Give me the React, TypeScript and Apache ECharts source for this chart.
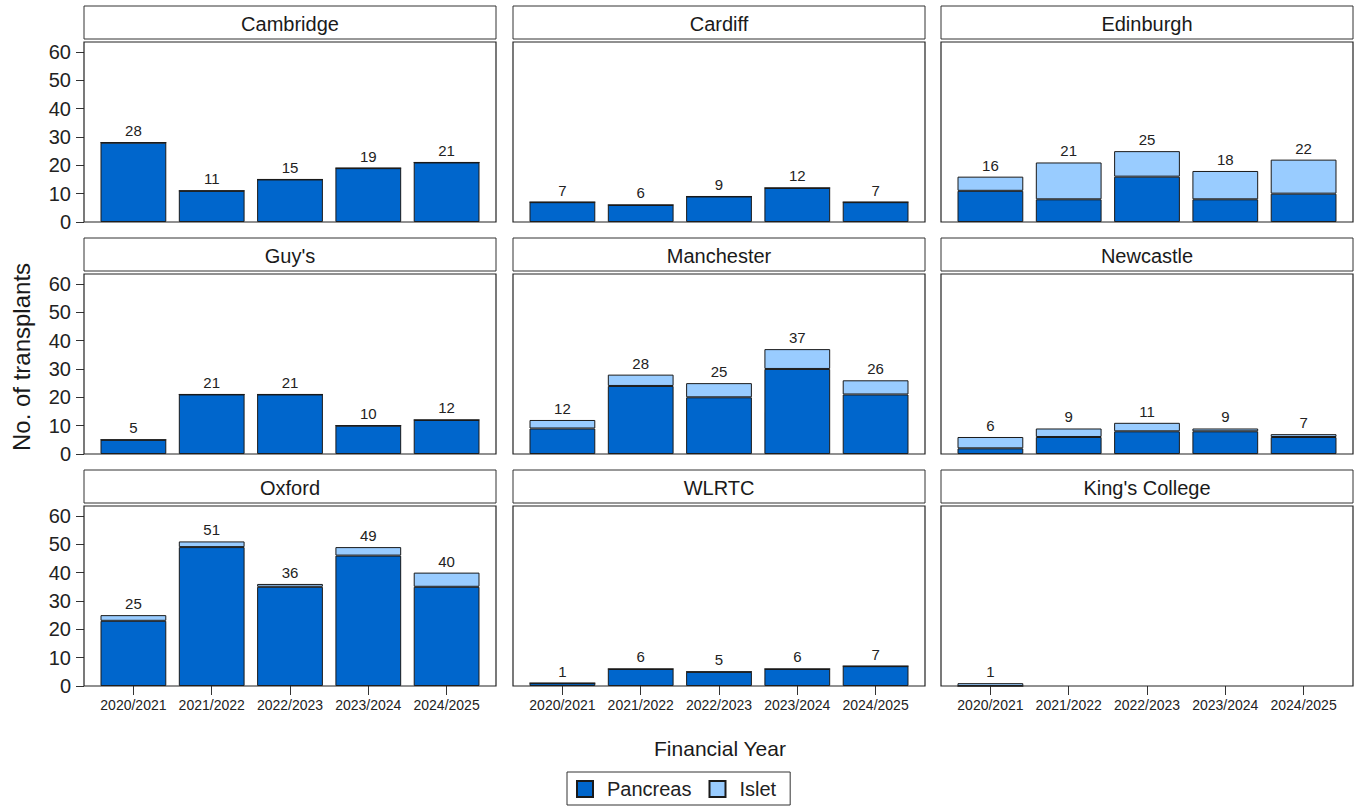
import { useEffect, useRef } from "react";
import * as echarts from "echarts";

const years = ["2020/2021", "2021/2022", "2022/2023", "2023/2024", "2024/2025"];
const centres = ["Cambridge", "Cardiff", "Edinburgh", "Guy's", "Manchester", "Newcastle", "Oxford", "WLRTC", "King's College"];
const yTicks = [0, 10, 20, 30, 40, 50, 60];

const cambridgePancreas = [28, 11, 15, 19, 21];
const cambridgeIslet = [0, 0, 0, 0, 0];
const cardiffPancreas = [7, 6, 9, 12, 7];
const cardiffIslet = [0, 0, 0, 0, 0];
const edinburghPancreas = [11, 8, 16, 8, 10];
const edinburghIslet = [5, 13, 9, 10, 12];
const guysPancreas = [5, 21, 21, 10, 12];
const guysIslet = [0, 0, 0, 0, 0];
const manchesterPancreas = [9, 24, 20, 30, 21];
const manchesterIslet = [3, 4, 5, 7, 5];
const newcastlePancreas = [2, 6, 8, 8, 6];
const newcastleIslet = [4, 3, 3, 1, 1];
const oxfordPancreas = [23, 49, 35, 46, 35];
const oxfordIslet = [2, 2, 1, 3, 5];
const wlrtcPancreas = [1, 6, 5, 6, 7];
const wlrtcIslet = [0, 0, 0, 0, 0];
const kingsPancreas = [0, null, null, null, null];
const kingsIslet = [1, null, null, null, null];

const pancreasByCentre: (number | null)[][] = [
  cambridgePancreas, cardiffPancreas, edinburghPancreas,
  guysPancreas, manchesterPancreas, newcastlePancreas,
  oxfordPancreas, wlrtcPancreas, kingsPancreas,
];
const isletByCentre: (number | null)[][] = [
  cambridgeIslet, cardiffIslet, edinburghIslet,
  guysIslet, manchesterIslet, newcastleIslet,
  oxfordIslet, wlrtcIslet, kingsIslet,
];

const FONT = "'Liberation Sans', Arial, sans-serif";
const PANCREAS_COLOR = "#0066CC";
const ISLET_COLOR = "#99CCFF";

export default function App() {
  const ref = useRef<HTMLDivElement>(null);
  useEffect(() => {
    document.body.style.margin = "0";
    if (!ref.current) return;
    const chart = echarts.init(ref.current, null, { renderer: "svg" });

    const colLeft = [84, 513, 941];
    const boxW = 412;
    const stripTop = [6, 238, 470];
    const stripH = 33;
    const plotTop = [42, 274, 506];
    const plotH = 180;
    const dataW = 391.5;
    const inset = (boxW - dataW) / 2;

    const grids: any[] = [];
    const xAxes: any[] = [];
    const yAxes: any[] = [];
    const series: any[] = [];
    const graphics: any[] = [];

    centres.forEach((name, i) => {
      const r = Math.floor(i / 3);
      const c = i % 3;
      grids.push({ left: colLeft[c] + inset, top: plotTop[r], width: dataW, height: plotH });
      xAxes.push({
        type: "category",
        gridIndex: i,
        data: years,
        boundaryGap: true,
        axisLine: { show: false },
        axisTick: { show: r === 2, interval: 0, alignWithLabel: true, length: 9, lineStyle: { color: "#333" } },
        axisLabel: { show: r === 2, interval: 0, fontSize: 14, color: "#222", fontFamily: FONT, margin: 12 },
        splitLine: { show: false },
      });
      yAxes.push({
        type: "value",
        gridIndex: i,
        min: 0,
        max: 63.5,
        offset: inset,
        axisLine: { show: false },
        splitLine: { show: false },
        axisTick: { show: c === 0, length: 8, customValues: yTicks, lineStyle: { color: "#333" } },
        axisLabel: { show: c === 0, customValues: yTicks, fontSize: 20, color: "#222", fontFamily: FONT, margin: 13 },
      });
      const pan = pancreasByCentre[i];
      const isl = isletByCentre[i];
      series.push({
        name: "Pancreas",
        type: "bar",
        xAxisIndex: i,
        yAxisIndex: i,
        stack: "s" + i,
        barWidth: "84%",
        data: pan,
        itemStyle: { color: PANCREAS_COLOR, borderColor: "#1a1a1a", borderWidth: 1 },
      });
      series.push({
        name: "Islet",
        type: "bar",
        xAxisIndex: i,
        yAxisIndex: i,
        stack: "s" + i,
        barWidth: "84%",
        data: isl,
        itemStyle: { color: ISLET_COLOR, borderColor: "#1a1a1a", borderWidth: 1 },
        label: {
          show: true,
          position: "top",
          distance: 4,
          fontSize: 15,
          color: "#222",
          fontFamily: FONT,
          formatter: (p: any) => {
            const a = pan[p.dataIndex];
            const b = isl[p.dataIndex];
            if (a == null && b == null) return "";
            return String((a || 0) + (b || 0));
          },
        },
      });
      graphics.push({
        type: "rect",
        z: 10,
        shape: { x: colLeft[c], y: stripTop[r], width: boxW, height: stripH },
        style: { fill: "none", stroke: "#333", lineWidth: 1 },
      });
      graphics.push({
        type: "text",
        z: 10,
        x: colLeft[c] + boxW / 2,
        y: stripTop[r] + stripH / 2 + 1,
        style: { text: name, fontSize: 20, fill: "#1a1a1a", fontFamily: FONT, textAlign: "center", textVerticalAlign: "middle" },
      });
      graphics.push({
        type: "rect",
        z: 10,
        shape: { x: colLeft[c], y: plotTop[r], width: boxW, height: plotH },
        style: { fill: "none", stroke: "#222", lineWidth: 1.2 },
      });
    });

    graphics.push({
      type: "text",
      x: 21,
      y: 357,
      rotation: Math.PI / 2,
      style: { text: "No. of transplants", fontSize: 24, fill: "#1a1a1a", fontFamily: FONT, textAlign: "center", textVerticalAlign: "middle" },
    });
    graphics.push({
      type: "text",
      x: 720,
      y: 748,
      style: { text: "Financial Year", fontSize: 21, fill: "#1a1a1a", fontFamily: FONT, textAlign: "center", textVerticalAlign: "middle" },
    });

    chart.setOption({
      animation: false,
      backgroundColor: "#ffffff",
      grid: grids,
      xAxis: xAxes,
      yAxis: yAxes,
      series,
      graphic: graphics,
      legend: {
        data: ["Pancreas", "Islet"],
        left: 567,
        top: 772,
        orient: "horizontal",
        icon: "rect",
        itemWidth: 16,
        itemHeight: 16,
        itemGap: 17,
        padding: [7, 14, 6, 9],
        borderColor: "#333",
        borderWidth: 1,
        textStyle: { fontSize: 20, color: "#222", fontFamily: FONT, padding: [0, 0, 0, 9] },
      },
    });
    return () => chart.dispose();
  }, []);
  return <div ref={ref} style={{ width: 1362, height: 807 }} />;
}
